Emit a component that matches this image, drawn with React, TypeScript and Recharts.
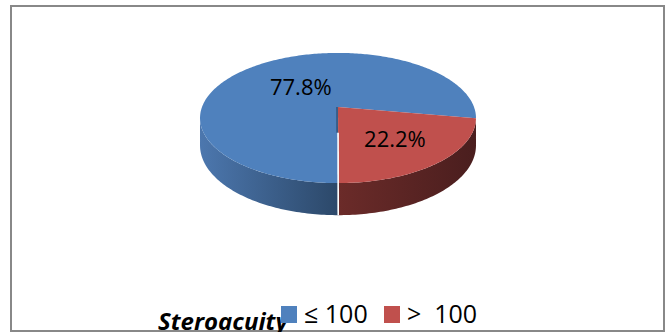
import React from 'react';
import { PieChart, Pie, Cell, Legend } from 'recharts';

// Stereoacuity groups and their share of patients (%)
const categories = ['≤ 100', '>  100'];
const shares = [77.8, 22.2];
const legendTitle = 'Steroacuity';

// Top-face and side-wall colours per slice
const TOP_COLORS = ['#4F81BD', '#C0504D'];
const SIDE_LIGHT = ['#4C77AE', '#6B2B29'];
const SIDE_DARK = ['#2C4869', '#4A1E1E'];

const data = categories.map((name, i) => ({ name, value: shares[i] }));

// 3D disc look: vertical squash, perspective shrink of the far side, wall thickness
const TILT = 0.465;
const PERSP = 0.169;
const DEPTH = 0.196;
const LABEL_R = [0.45, 0.6];
const ITEM_X = [281, 384];
const FONT = "'Open Sans', 'DejaVu Sans', sans-serif";

type Pt = { x: number; y: number; d: number };

function project(cx: number, cy: number, R: number, deg: number, r = 1): Pt {
  const t = (deg * Math.PI) / 180;
  const X = r * Math.cos(t);
  const Z = r * Math.sin(t);
  const k = 1 + PERSP * Z;
  return { x: cx + (R * X) / k, y: cy - (R * TILT * Z) / k, d: (R * DEPTH) / k };
}

function arc(cx: number, cy: number, R: number, a: number, b: number): Pt[] {
  const n = Math.max(2, Math.ceil(Math.abs(b - a)));
  const pts: Pt[] = [];
  for (let i = 0; i <= n; i++) pts.push(project(cx, cy, R, a + ((b - a) * i) / n));
  return pts;
}

// Draws one slice as a solid: outer wall first, then the top face and its value label.
function renderSlice(props: any) {
  const { cx, cy, outerRadius: R, startAngle, endAngle, index, value } = props;
  const lo = Math.min(startAngle, endAngle);
  const hi = Math.max(startAngle, endAngle);
  const top = arc(cx, cy, R, lo, hi);
  const topPath =
    `M${cx},${cy} ` + top.map((p) => `L${p.x.toFixed(2)},${p.y.toFixed(2)}`).join(' ') + ' Z';

  const s = (Math.asin(PERSP) * 180) / Math.PI;
  const walls: string[] = [];
  let minX = Infinity;
  let maxX = -Infinity;
  for (const shift of [-360, 0, 360]) {
    const a = Math.max(lo, 180 + s + shift);
    const b = Math.min(hi, 360 - s + shift);
    if (b - a > 0.5) {
      const rim = arc(cx, cy, R, a, b);
      const bottom = rim.slice().reverse();
      rim.forEach((p) => {
        minX = Math.min(minX, p.x);
        maxX = Math.max(maxX, p.x);
      });
      walls.push(
        'M' +
          rim.map((p) => `${p.x.toFixed(2)},${p.y.toFixed(2)}`).join(' L') +
          ' L' +
          bottom.map((p) => `${p.x.toFixed(2)},${(p.y + p.d).toFixed(2)}`).join(' L') +
          ' Z'
      );
    }
  }

  const gid = `wall-grad-${index}`;
  const seamOn = Math.sin((startAngle * Math.PI) / 180) < -0.5;
  const seamTop = project(cx, cy, R, startAngle, 0.38);
  const seamRim = project(cx, cy, R, startAngle, 1);
  const lp = project(cx, cy, R, (startAngle + endAngle) / 2, LABEL_R[index] ?? 0.55);

  return (
    <g key={`slice-${index}`}>
      <defs>
        <linearGradient id={gid} gradientUnits="userSpaceOnUse" x1={minX} y1={0} x2={maxX} y2={0}>
          <stop offset="0%" stopColor={SIDE_LIGHT[index]} />
          <stop offset="100%" stopColor={SIDE_DARK[index]} />
        </linearGradient>
      </defs>
      {walls.map((d, i) => (
        <path key={i} d={d} fill={`url(#${gid})`} stroke="none" />
      ))}
      <path d={topPath} fill={TOP_COLORS[index]} stroke="none" />
      {seamOn && (
        <>
          <line x1={cx - 1} y1={cy} x2={seamTop.x - 1} y2={seamTop.y} stroke="#2C4869" strokeWidth={1.2} />
          <line
            x1={seamTop.x}
            y1={seamTop.y}
            x2={seamRim.x}
            y2={seamRim.y + seamRim.d}
            stroke="#ffffff"
            strokeWidth={1.6}
          />
        </>
      )}
      <text
        x={lp.x}
        y={lp.y}
        textAnchor="middle"
        dominantBaseline="central"
        fontFamily={FONT}
        fontSize={22}
        fill="#000"
      >
        {`${Number(value).toFixed(1)}%`}
      </text>
    </g>
  );
}

// Legend keeps the category order of the data arrays
function renderLegend() {
  return (
    <svg width={667} height={42} style={{ display: 'block', overflow: 'hidden' }}>
      <text x={158} y={40} fontFamily={FONT} fontSize={24} fontWeight={700} fontStyle="italic" fill="#000">
        {legendTitle}
      </text>
      {categories.map((name, i) => (
        <g key={`item-${i}`}>
          <rect x={ITEM_X[i]} y={16} width={16} height={17} fill={TOP_COLORS[i]} />
          <text
            x={ITEM_X[i] + 23}
            y={33}
            fontFamily={FONT}
            fontSize={25}
            fill="#000"
            style={{ whiteSpace: 'pre' }}
          >
            {name}
          </text>
        </g>
      ))}
    </svg>
  );
}

export default function App() {
  return (
    <div style={{ position: 'absolute', left: 0, top: 0, width: 667, height: 332, background: '#fff' }}>
      <div
        style={{
          position: 'absolute',
          left: 10,
          top: 5,
          width: 655,
          height: 327,
          border: '2px solid #888888',
          boxSizing: 'border-box',
        }}
      />
      <div style={{ position: 'absolute', left: 0, top: 0 }}>
        <PieChart width={667} height={332} margin={{ top: 0, right: 0, bottom: 0, left: 0 }}>
          <Pie
            data={data}
            dataKey="value"
            nameKey="name"
            cx={338}
            cy={107}
            outerRadius={136}
            startAngle={-10}
            endAngle={350}
            stroke="none"
            label={renderSlice}
            labelLine={false}
            isAnimationActive={false}
          >
            {data.map((d, i) => (
              <Cell key={d.name} fill={TOP_COLORS[i]} fillOpacity={0} />
            ))}
          </Pie>
          <Legend
            content={renderLegend}
            wrapperStyle={{ position: 'absolute', left: 0, top: 290, width: 667, height: 42 }}
          />
        </PieChart>
      </div>
    </div>
  );
}
